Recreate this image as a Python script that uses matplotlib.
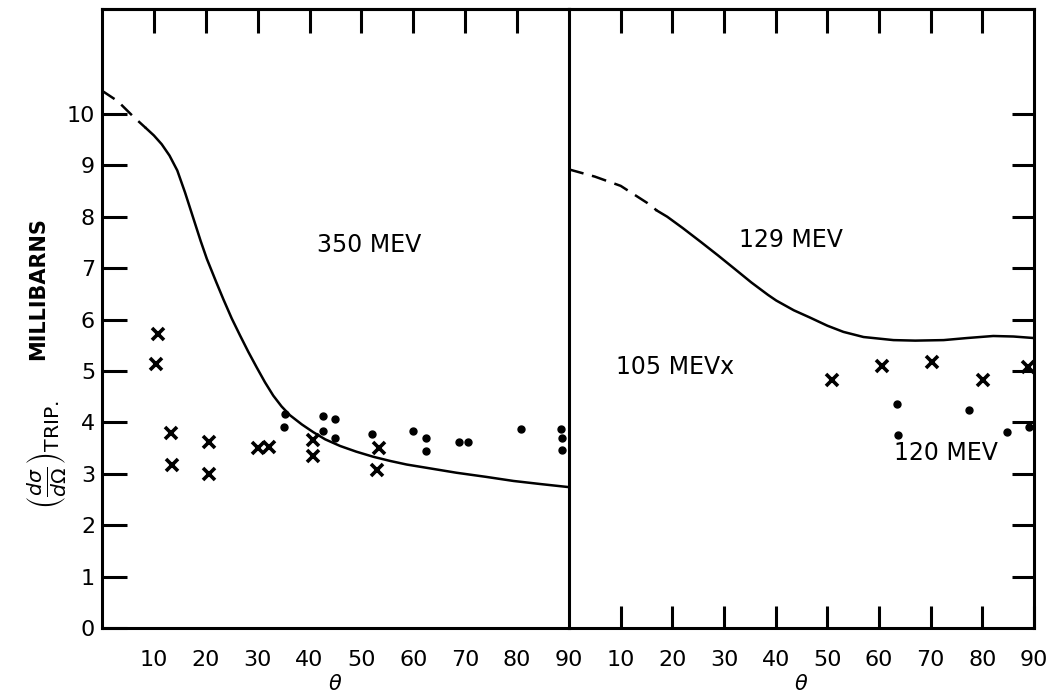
import matplotlib
matplotlib.use("Agg")
import matplotlib.pyplot as plt

# 350 MeV calculated curve (left panel), dashed part then solid part
left_dash_theta = [0, 3, 6, 8.5]
left_dash_value = [10.45, 10.25, 9.95, 9.72]
left_theta = [8.5, 10, 11.5, 13, 14.5, 16, 17.5, 19, 20.2, 22, 23.4, 25, 26.6, 28.2,
              29.8, 31.4, 33, 34.6, 36.2, 38.5, 40.7, 43, 45.9, 49, 52.3, 55.5, 58.7,
              63.5, 68.3, 74, 79.3, 84.5, 90]
left_value = [9.72, 9.58, 9.41, 9.19, 8.90, 8.47, 8.00, 7.53, 7.18, 6.73, 6.39, 6.02,
              5.69, 5.37, 5.07, 4.78, 4.52, 4.31, 4.14, 3.96, 3.81, 3.67, 3.54, 3.43,
              3.33, 3.25, 3.18, 3.10, 3.02, 2.94, 2.86, 2.80, 2.74]

# 350 MeV measured points
left_x_theta = [10.7, 10.4, 13.2, 13.4, 20.7, 20.7, 30.1, 32.2, 40.7, 40.7, 53.4, 53.0]
left_x_value = [5.71, 5.13, 3.79, 3.18, 3.61, 3.00, 3.51, 3.52, 3.65, 3.35, 3.50, 3.07]
left_dot_theta = [35.3, 35.1, 42.5, 44.8, 42.6, 44.9, 52.0, 59.9, 62.4, 62.4, 68.8,
                  70.6, 80.7, 88.4, 88.6, 88.6]
left_dot_value = [4.16, 3.91, 4.13, 4.06, 3.83, 3.69, 3.77, 3.83, 3.70, 3.44, 3.61,
                  3.61, 3.87, 3.87, 3.69, 3.46]

# 129 MeV calculated curve (right panel)
right_dash_theta = [0, 5, 10, 15.1, 17]
right_dash_value = [8.92, 8.78, 8.60, 8.27, 8.12]
right_theta = [17, 19, 22, 25.5, 28.8, 32, 35.3, 38.5, 40.1, 43.5, 46.6, 50, 53.1,
               57, 62.8, 67, 72.5, 77, 82.1, 86, 90]
right_value = [8.12, 8.00, 7.78, 7.51, 7.25, 6.99, 6.72, 6.48, 6.37, 6.18, 6.04, 5.88,
               5.76, 5.66, 5.60, 5.59, 5.60, 5.64, 5.68, 5.67, 5.64]

# 105 MeV (x) and 120 MeV (dots) measured points
right_x_theta = [50.8, 60.5, 70.3, 80.1, 88.8]
right_x_value = [4.82, 5.10, 5.18, 4.82, 5.07]
right_dot_theta = [63.4, 63.6, 77.4, 84.8, 89.0]
right_dot_value = [4.36, 3.75, 4.25, 3.82, 3.91]

x_ticks = [10, 20, 30, 40, 50, 60, 70, 80, 90]
top_ticks = [10, 20, 30, 40, 50, 60, 70, 80]
y_ticks = [0, 1, 2, 3, 4, 5, 6, 7, 8, 9, 10]

FONT = "DejaVu Sans"
LW = 1.8
SPINE = 2.2
DASH = (0, (6, 3.5))

fig = plt.figure(figsize=(10.53, 6.94), dpi=100)
axL = fig.add_axes([0.0969, 0.0951, 0.4435, 0.8919])
axR = fig.add_axes([0.5404, 0.0951, 0.4416, 0.8919])
axR.patch.set_visible(False)

for ax in (axL, axR):
    ax.set_xlim(0, 90)
    ax.set_ylim(0, 12.04)
    for s in ax.spines.values():
        s.set_linewidth(SPINE)
    ax.set_xticks(x_ticks)
    ax.set_xticklabels([str(t) for t in x_ticks], fontsize=16, family=FONT)
    top = ax.secondary_xaxis("top")
    top.set_xticks(top_ticks)
    top.set_xticklabels([])
    top.tick_params(direction="in", length=17, width=2.2)
    top.spines["top"].set_linewidth(SPINE)
    ax.set_xlabel(r"$\theta$", fontsize=15, labelpad=3)

# left panel ticks
axL.tick_params(axis="x", direction="in", length=0, pad=16)
axL.set_yticks(y_ticks)
axL.set_yticklabels([str(t) for t in y_ticks], fontsize=16, family=FONT)
axL.tick_params(axis="y", direction="in", length=18, width=2.2, pad=5)

# right panel ticks
axR.tick_params(axis="x", direction="in", length=16, width=2.2, pad=16)
axR.yaxis.tick_right()
axR.set_yticks(y_ticks[1:])
axR.set_yticklabels([])
axR.tick_params(axis="y", direction="in", length=16, width=2.2)
axR.spines["left"].set_visible(False)

# curves
axL.plot(left_dash_theta, left_dash_value, color="black", lw=LW, ls=DASH)
axL.plot(left_theta, left_value, color="black", lw=LW)
axR.plot(right_dash_theta, right_dash_value, color="black", lw=LW, ls=DASH)
axR.plot(right_theta, right_value, color="black", lw=LW)

# data points
axL.plot(left_x_theta, left_x_value, ls="none", marker="x", ms=8, mew=2.6, color="black")
axL.plot(left_dot_theta, left_dot_value, ls="none", marker="o", ms=5, color="black")
axR.plot(right_x_theta, right_x_value, ls="none", marker="x", ms=8, mew=2.6, color="black")
axR.plot(right_dot_theta, right_dot_value, ls="none", marker="o", ms=5, color="black")
for ax in (axL, axR):
    for ln in ax.lines:
        ln.set_clip_on(False)

# annotations
axL.text(51.5, 7.45, "350 MEV", fontsize=17, family=FONT, ha="center", va="center")
axR.text(43.0, 7.55, "129 MEV", fontsize=17, family=FONT, ha="center", va="center")
axR.text(20.5, 5.07, "105 MEVx", fontsize=17, family=FONT, ha="center", va="center")
axR.text(73.0, 3.41, "120 MEV", fontsize=17, family=FONT, ha="center", va="center")

# y axis label
fig.text(0.036, 0.584, "MILLIBARNS", rotation=90, fontsize=15, fontweight="bold",
         family=FONT, ha="center", va="center")
fig.text(0.045, 0.345, r"$\left(\frac{d\sigma}{d\Omega}\right)_{\mathrm{TRIP.}}$",
         rotation=90, fontsize=21, ha="center", va="center")

fig.savefig("out.png", dpi=100, facecolor="white")
